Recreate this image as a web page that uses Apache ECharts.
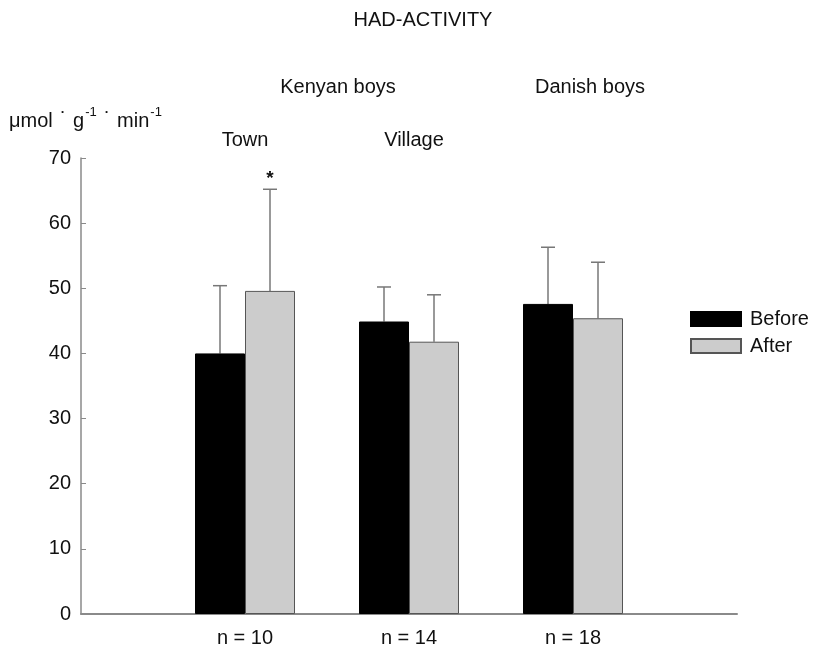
<!DOCTYPE html>
<html>
<head>
<meta charset="utf-8">
<script src="https://cdn.jsdelivr.net/npm/echarts@6/dist/echarts.min.js"></script>
<style>html,body{margin:0;padding:0;background:#fff}#c{width:814px;height:651px}</style>
</head>
<body>
<div id="c"></div>
<script>
var categories = ['', 'n = 10', 'n = 14', 'n = 18', ''];
var beforeMean = [null, 40.0, 44.9, 47.6, null];
var afterMean  = [null, 49.6, 41.8, 45.4, null];
var beforeSD   = [null, 10.4, 5.3, 8.7, null];
var afterSD    = [null, 15.6, 7.2, 8.6, null];
var afterSig   = ['', '*', '', '', ''];
var yTicks = {min: 0, max: 70, interval: 10};

var FONT = '"Liberation Sans", Arial, sans-serif';
var chart = echarts.init(document.getElementById('c'));

function errData(means, sds, sig) {
  var out = [];
  for (var i = 0; i < means.length; i++) {
    if (means[i] != null) out.push([i, means[i], means[i] + sds[i], sig ? sig[i] : '']);
  }
  return out;
}

function errRender(offset) {
  return function (params, api) {
    var x = api.value(0);
    var p0 = api.coord([x, api.value(1)]);
    var p1 = api.coord([x, api.value(2)]);
    var cx = p0[0] + offset;
    var style = {stroke: '#777', lineWidth: 1.5};
    var children = [
      {type: 'line', shape: {x1: cx, y1: p0[1], x2: cx, y2: p1[1]}, style: style},
      {type: 'line', shape: {x1: cx - 7, y1: p1[1], x2: cx + 7, y2: p1[1]}, style: style}
    ];
    var s = api.value(3);
    if (s) {
      children.push({type: 'text', style: {text: s, x: cx, y: p1[1] - 1, align: 'center', verticalAlign: 'bottom', font: 'bold 19px ' + FONT, fill: '#111'}});
    }
    return {type: 'group', children: children};
  };
}

chart.setOption({
  animation: false,
  backgroundColor: '#fff',
  grid: {left: 81, right: 77, top: 158, bottom: 37, containLabel: false},
  legend: {
    show: true, orient: 'vertical', left: 685, top: 304,
    icon: 'rect',
    itemWidth: 50, itemHeight: 14, itemGap: 7,
    textStyle: {fontFamily: FONT, fontSize: 20, color: '#111', lineHeight: 14, padding: [0, 0, 0, 4]},
    data: ['Before', 'After']
  },
  xAxis: {
    type: 'category', data: categories, boundaryGap: false,
    axisLine: {lineStyle: {color: '#8a8a8a', width: 2}},
    axisTick: {show: false},
    axisLabel: {interval: 0, fontFamily: FONT, fontSize: 20, color: '#111', margin: 14}
  },
  yAxis: {
    type: 'value', min: yTicks.min, max: yTicks.max, interval: yTicks.interval,
    axisLine: {show: true, lineStyle: {color: '#8a8a8a', width: 1.5}},
    axisTick: {show: true, inside: true, length: 5, lineStyle: {color: '#8a8a8a'}},
    splitLine: {show: false},
    axisLabel: {fontFamily: FONT, fontSize: 20, color: '#111', margin: 10}
  },
  graphic: [
    {type: 'text', x: 423, y: 20, style: {text: 'HAD-ACTIVITY', font: '20px ' + FONT, fill: '#111', align: 'center', verticalAlign: 'middle'}},
    {type: 'text', x: 338, y: 87, style: {text: 'Kenyan boys', font: '20px ' + FONT, fill: '#111', align: 'center', verticalAlign: 'middle'}},
    {type: 'text', x: 590, y: 87, style: {text: 'Danish boys', font: '20px ' + FONT, fill: '#111', align: 'center', verticalAlign: 'middle'}},
    {type: 'text', x: 245, y: 140, style: {text: 'Town', font: '20px ' + FONT, fill: '#111', align: 'center', verticalAlign: 'middle'}},
    {type: 'text', x: 414, y: 140, style: {text: 'Village', font: '20px ' + FONT, fill: '#111', align: 'center', verticalAlign: 'middle'}},
    {type: 'text', x: 9, y: 106, style: {
      text: '{n|μmol}{d|·}{n|g}{s|-1}{d|·}{n|min}{s|-1}',
      rich: {
        n: {font: '20px ' + FONT, fill: '#111', verticalAlign: 'bottom'},
        d: {font: 'bold 13px ' + FONT, fill: '#111', verticalAlign: 'top', padding: [0, 8, 12, 8]},
        s: {font: '13px ' + FONT, fill: '#111', verticalAlign: 'top', padding: [0, 0, 12, 1]}
      }
    }}
  ],
  series: [
    {name: 'Before', type: 'bar', data: beforeMean, barWidth: 50, barGap: '0%',
     itemStyle: {color: '#000', borderColor: '#000', borderWidth: 1}},
    {name: 'After', type: 'bar', data: afterMean, barWidth: 50, barGap: '0%',
     itemStyle: {color: '#cccccc', borderColor: '#555', borderWidth: 1}},
    {name: 'errB', type: 'custom', data: errData(beforeMean, beforeSD), renderItem: errRender(-25), z: 1},
    {name: 'errA', type: 'custom', data: errData(afterMean, afterSD, afterSig), renderItem: errRender(25), z: 1}
  ]
});
</script>
</body>
</html>
